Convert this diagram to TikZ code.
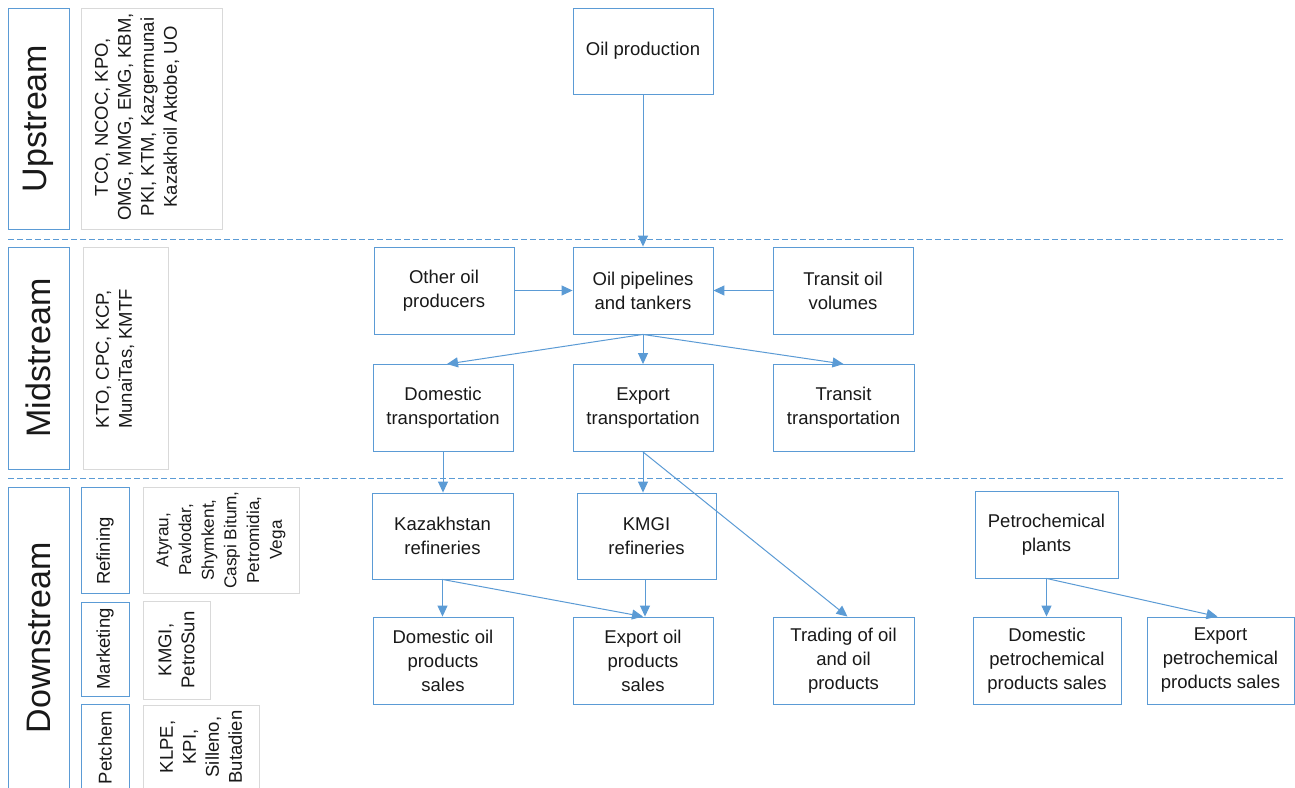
\documentclass[tikz,border=0pt]{standalone}
\usepackage{fontspec}
\setmainfont{Liberation Sans}
\usetikzlibrary{arrows.meta}
\definecolor{bblue}{RGB}{91,155,213}
\definecolor{gbord}{RGB}{217,217,217}
\definecolor{txt}{RGB}{25,25,25}
\begin{document}
\begin{tikzpicture}[x=1pt,y=-1pt,
  box/.style={draw=bblue, line width=0.9pt, rectangle, inner sep=0pt, align=center, text=txt,
    font=\fontsize{18.5}{24}\selectfont, minimum width=140pt, minimum height=87pt},
  side/.style={draw=bblue, line width=0.9pt, rectangle, inner sep=0pt, align=center, text=txt, rotate=90},
  list/.style={draw=gbord, line width=1pt, rectangle, inner sep=0pt, align=center, text=txt, rotate=90,
    font=\fontsize{18.5}{23}\selectfont},
  rtext/.style={rotate=90, inner sep=0pt, align=center, text=txt, font=\fontsize{18.5}{23}\selectfont},
  big/.style={font=\fontsize{34}{40}\selectfont},
  small/.style={font=\fontsize{18.5}{23}\selectfont},
  arr/.style={draw=bblue, line width=1pt, -{Triangle[length=11pt,width=10pt]}},
  sep/.style={draw=bblue, line width=1pt, dash pattern=on 6pt off 3pt}]
\clip (0,0) rectangle (1295,787);
\fill[white] (0,0) rectangle (1295,787);

% separators
\coordinate (s1a) at (8,239); \coordinate (s1b) at (1285,239);
\coordinate (s2a) at (8,478); \coordinate (s2b) at (1285,478);
\draw[sep] (s1a) -- (s1b);
\draw[sep] (s2a) -- (s2b);

% left column
\node[side, big, minimum width=221pt, minimum height=61pt] (up) at (38.5,118.5) {Upstream};
\node[list, minimum width=221pt, minimum height=141pt] (upc) at (151.5,118.5) {};
\node[rtext] (upct) at (137,117)
  {TCO, NCOC, KPO,\\OMG, MMG, EMG, KBM,\\PKI, KTM, Kazgermunai\\Kazakhoil Aktobe, UO};
\node[side, big, minimum width=222pt, minimum height=61pt] (mid) at (38.5,358) {Midstream};
\node[list, minimum width=222pt, minimum height=85pt] (midc) at (125.5,358) {};
\node[rtext] (midct) at (115,359) {KTO, CPC, KCP,\\MunaiTas, KMTF};
\node[side, big, minimum width=302pt, minimum height=61pt] (down) at (38.5,638) {Downstream};
\node[side, minimum width=106pt, minimum height=48pt] (ref) at (105,540) {};
\node[rtext] (reft) at (105,551) {Refining};
\node[list, minimum width=106pt, minimum height=156pt, font=\fontsize{17.2}{22.7}\selectfont] (refc) at (221,540)
  {Atyrau,\\Pavlodar,\\Shymkent,\\Caspi Bitum,\\Petromidia,\\Vega};
\node[side, small, minimum width=94pt, minimum height=48pt] (mkt) at (105,649) {Marketing};
\node[list, minimum width=98pt, minimum height=67pt] (mktc) at (176.5,650) {KMGI,\\PetroSun};
\node[side, small, minimum width=87pt, minimum height=48pt] (pet) at (105,747.5) {Petchem};
\node[list, minimum width=84pt, minimum height=116pt] (petc) at (201,747)
  {KLPE,\\KPI,\\Silleno,\\Butadien};

% flow boxes
\node[box, minimum height=86pt] (prod) at (643,51) {Oil production};
\node[box] (other) at (444,290.5) {Other oil\\producers};
\node[box] (pipe) at (643,290.5) {Oil pipelines\\and tankers};
\node[box] (trov) at (843,290.5) {Transit oil\\volumes};
\node[box] (domtr) at (443,408) {Domestic\\transportation};
\node[box] (exptr) at (643,408) {Export\\transportation};
\node[box, minimum width=141pt] (trtr) at (843.5,408) {Transit\\transportation};
\node[box, minimum width=141pt, minimum height=86pt] (kazr) at (442.5,536) {Kazakhstan\\refineries};
\node[box, minimum width=139pt, minimum height=86pt] (kmgi) at (646.5,536) {KMGI\\refineries};
\node[box, minimum width=143pt] (petp) at (1046.5,534.5) {Petrochemical\\plants};
\node[box] (doms) at (443,660.5) {Domestic oil\\products\\sales};
\node[box] (exps) at (643,660.5) {Export oil\\products\\sales};
\node[box, minimum width=141pt] (trad) at (843.5,660.5) {Trading of oil\\and oil\\products};
\node[box, minimum width=148pt] (dompc) at (1047,660.5) {Domestic\\petrochemical\\products sales};
\node[box, minimum width=147pt] (exppc) at (1220.5,660.5) {Export\\petrochemical\\products sales};

% connectors
\draw[arr] (prod.south) -- (pipe.north);
\draw[arr] (other.east) -- (pipe.west);
\draw[arr] (trov.west) -- (pipe.east);
\draw[arr] (pipe.south) -- ([xshift=4pt]domtr.north);
\draw[arr] (pipe.south) -- (exptr.north);
\draw[arr] (pipe.south) -- (trtr.north);
\draw[arr] (domtr.south) -- (domtr.south |- kazr.north);
\draw[arr] (exptr.south) -- (exptr.south |- kmgi.north);
\draw[arr] (exptr.south) -- ([xshift=4pt]trad.north);
\draw[arr] (kazr.south) -- (kazr.south |- doms.north);
\draw[arr] (kazr.south) -- (exps.north);
\draw[arr] ([xshift=-1.5pt]kmgi.south) -- ([xshift=-1.5pt]kmgi.south |- exps.north);
\draw[arr] (petp.south) -- (petp.south |- dompc.north);
\draw[arr] (petp.south) -- ([xshift=-3pt]exppc.north);
\end{tikzpicture}
\end{document}
